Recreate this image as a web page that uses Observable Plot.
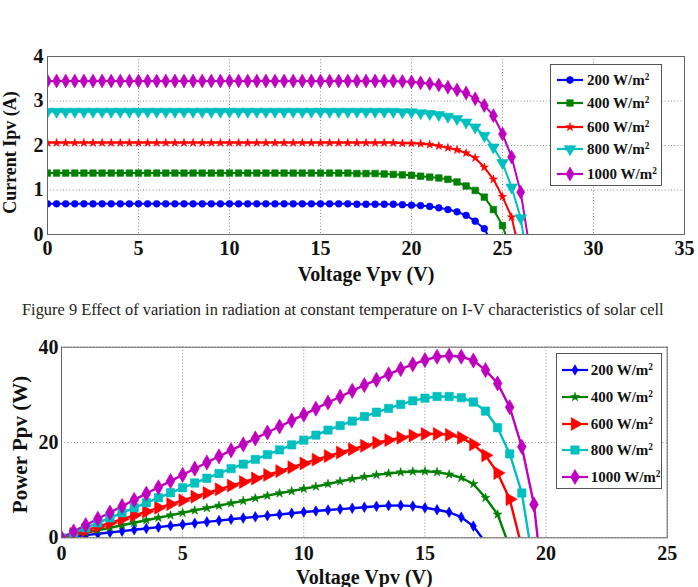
<!DOCTYPE html>
<html><head><meta charset="utf-8">
<script src="https://cdn.jsdelivr.net/npm/d3@7"></script>
<script src="https://cdn.jsdelivr.net/npm/@observablehq/plot@0.6"></script>
<style>
body{margin:0;background:#fff;}
#wrap{position:relative;width:698px;height:587px;overflow:hidden;background:#fff;font-family:"Liberation Serif","Times New Roman",serif;}
.chart{position:absolute;left:0;}
.caption{position:absolute;left:22px;top:300px;font-size:16.4px;white-space:nowrap;color:#222;font-family:"Liberation Serif",serif;}
.legend{position:absolute;background:#fff;border:1px solid #555;box-sizing:border-box;font-weight:bold;font-family:"Liberation Serif",serif;}
.legend .row{position:absolute;left:0;display:flex;align-items:center;white-space:nowrap;color:#111;}
.legend sup{font-size:0.62em;vertical-align:0.55em;line-height:0;}
</style></head><body><div id="wrap"></div>
<script>
// ---------- data ----------
const irradiance = ["200 W/m2","400 W/m2","600 W/m2","800 W/m2","1000 W/m2"];
const seriesColors = ["#0000ff","#008000","#ff0000","#00bfbf","#bf00bf"];

const ivXTicks = [0,5,10,15,20,25,30,35];
const ivYTicks = [0,1,2,3,4];
const pvXTicks = [0,5,10,15,20,25];
const pvYTicks = [0,20,40];

// I-V chart: voltage samples (V) and current (A)
const ivVoltage = [0,0.5,1,1.5,2,2.5,3,3.5,4,4.5, 5,5.5,6,6.5,7,7.5,8,8.5,9,9.5,
  10,10.5,11,11.5,12,12.5,13,13.5,14,14.5, 15,15.5,16,16.5,17,17.5,18,18.5,19,19.5,
  20,20.5,21,21.5,22,22.5,23,23.5,24,24.5, 25,25.5,26,26.5];
const iv200 = [0.69,0.69,0.69,0.69,0.69,0.69,0.69,0.69,0.69,0.69, 0.69,0.69,0.69,0.69,0.69,0.69,0.69,0.69,0.69,0.69,
  0.69,0.69,0.69,0.69,0.69,0.69,0.69,0.69,0.69,0.69, 0.69,0.69,0.69,0.69,0.68,0.68,0.68,0.68,0.68,0.67,
  0.66,0.65,0.63,0.60,0.56,0.51,0.43,0.30,0.13,-0.25];
const iv400 = [1.38,1.38,1.38,1.38,1.38,1.38,1.38,1.38,1.38,1.38, 1.38,1.38,1.38,1.38,1.38,1.38,1.38,1.38,1.38,1.38,
  1.38,1.38,1.38,1.38,1.38,1.38,1.38,1.38,1.38,1.38, 1.38,1.38,1.38,1.38,1.37,1.37,1.37,1.36,1.35,1.34,
  1.33,1.31,1.29,1.27,1.24,1.18,1.09,0.99,0.84,0.56, 0.20,-0.40];
const iv600 = [2.06,2.06,2.06,2.06,2.06,2.06,2.06,2.06,2.06,2.06, 2.06,2.06,2.06,2.06,2.06,2.06,2.06,2.06,2.06,2.06,
  2.06,2.06,2.06,2.06,2.06,2.06,2.06,2.06,2.06,2.06, 2.06,2.06,2.06,2.06,2.06,2.06,2.06,2.06,2.06,2.05,
  2.05,2.04,2.02,1.99,1.95,1.90,1.83,1.72,1.51,1.24, 0.85,0.39,-0.50];
const iv800 = [2.76,2.76,2.76,2.76,2.76,2.76,2.76,2.76,2.76,2.76, 2.76,2.76,2.76,2.76,2.76,2.76,2.76,2.76,2.76,2.76,
  2.76,2.76,2.76,2.76,2.76,2.76,2.76,2.76,2.76,2.76, 2.76,2.76,2.76,2.76,2.76,2.76,2.76,2.76,2.76,2.75,
  2.75,2.73,2.71,2.69,2.65,2.60,2.52,2.41,2.22,1.96, 1.61,1.06,0.37,-0.90];
const iv1000 = [3.45,3.45,3.45,3.45,3.45,3.45,3.45,3.45,3.45,3.45, 3.45,3.45,3.45,3.45,3.45,3.45,3.45,3.45,3.45,3.45,
  3.45,3.45,3.45,3.45,3.45,3.45,3.45,3.45,3.45,3.45, 3.45,3.45,3.45,3.45,3.45,3.45,3.45,3.45,3.45,3.44,
  3.43,3.41,3.39,3.36,3.31,3.25,3.18,3.05,2.90,2.67, 2.26,1.74,0.95,-0.33];

// P-V chart: voltage samples (V) and power (W)
const pvVoltage = [0,0.5,1,1.5,2,2.5,3,3.5,4,4.5, 5,5.5,6,6.5,7,7.5,8,8.5,9,9.5,
  10,10.5,11,11.5,12,12.5,13,13.5,14,14.5, 15,15.5,16,16.5,17,17.5,18,18.5,19,19.5, 20];
const pv200 = [0,0.28,0.56,0.84,1.12,1.4,1.68,1.96,2.24,2.52, 2.8,3.07,3.34,3.61,3.88,4.15,4.4,4.65,4.9,5.15,
  5.4,5.62,5.84,6.02,6.2,6.42,6.62,6.76,6.8,6.65, 6.3,5.88,5.36,4.33,2.45,-1.0];
const pv400 = [0,0.53,1.06,1.58,2.1,2.63,3.15,3.68,4.2,4.72, 5.25,5.75,6.25,6.75,7.25,7.75,8.3,8.85,9.35,9.8,
  10.3,10.75,11.3,11.85,12.35,12.8,13.2,13.5,13.75,13.9, 13.95,13.8,13.3,12.6,11.3,8.4,4.9,-2.0];
const pv600 = [0,0.79,1.58,2.37,3.15,3.94,4.72,5.5,6.3,7.07, 7.85,8.63,9.4,10.18,10.95,11.7,12.45,13.2,14.0,14.8,
  15.6,16.4,17.15,17.9,18.6,19.3,19.95,20.5,21.0,21.45, 21.8,21.8,21.6,21.0,19.6,17.3,13.6,8.1,-2.0];
const pv800 = [0,1.05,2.1,3.15,4.2,5.25,6.3,7.35,8.4,9.45, 10.5,11.5,12.5,13.5,14.5,15.45,16.45,17.45,18.45,19.5,
  20.5,21.55,22.6,23.55,24.5,25.45,26.35,27.15,28.0,28.75, 29.3,29.65,29.65,29.4,28.5,26.6,23.1,17.6,9.4,-6.3];
const pv1000 = [0,1.33,2.66,3.99,5.3,6.63,7.95,9.27,10.6,11.9, 13.2,14.5,15.8,17.1,18.35,19.6,20.85,22.1,23.35,24.6,
  25.85,27.1,28.4,29.6,30.85,32.05,33.15,34.3,35.4,36.4, 37.3,38.0,38.2,38.0,37.2,35.2,32.4,27.4,19.1,7.0,-16];

// ---------- styles ----------
const ivMarkers = [
  {symbol:"circle", r:3.4}, {symbol:"square", r:3.7}, {symbol:"star", r:2.6},
  {symbol:"triangle", r:4.3, rotate:180}, {symbol:"diamond", r:4.2}];
const pvMarkers = [
  {symbol:"diamond", r:3.2}, {symbol:"star", r:2.8}, {symbol:"triangle", r:4.8, rotate:90},
  {symbol:"square", r:4.7}, {symbol:"diamond", r:4.6}];

function makeChart(o) {
  const rows = [];
  o.series.forEach((vals, k) => vals.forEach((v, i) => rows.push({V: o.voltage[i], Y: v, s: irradiance[k], k})));
  const marks = [
    Plot.ruleX(o.xTicks, {stroke:"#8c8c8c", strokeDasharray:"1,2.2", strokeWidth:1}),
    Plot.ruleY(o.yTicks, {stroke:"#8c8c8c", strokeDasharray:"1,2.2", strokeWidth:1}),
    Plot.line(rows, {x:"V", y:"Y", z:"s", stroke:"s", strokeWidth:o.lw, clip:true}),
    ...o.markers.map((mk, k) => Plot.dot(rows.filter(d => d.k === k), {
      x:"V", y:"Y", symbol:mk.symbol, r:mk.r, rotate:mk.rotate || 0,
      fill:seriesColors[k], stroke:seriesColors[k], strokeWidth:0.6, clip:true})),
    Plot.frame({stroke:"#666", strokeWidth:1}),
    Plot.text([o.xLabel], {frameAnchor:"bottom", textAnchor:"middle", dy:o.xTitleDy, lineAnchor:"middle", fontSize:20, fontWeight:"bold", fill:"#111"}),
    Plot.text([o.yLabel], {frameAnchor:"left", textAnchor:"middle", dx:o.yTitleDx, dy:o.yTitleDy, rotate:-90, lineAnchor:"middle", fontSize:o.yTitleSize, fontWeight:"bold", fill:"#111"})
  ];
  return Plot.plot({
    width: 698, height: o.height,
    marginTop: o.m[0], marginRight: o.m[1], marginBottom: o.m[2], marginLeft: o.m[3],
    style: {fontFamily:"Liberation Serif, serif", fontSize:"20px", fontWeight:"bold", background:"transparent", color:"#111", overflow:"visible"},
    x: {domain:o.xDomain, ticks:o.xTicks, tickFormat:d3.format("d"), tickSize:0, tickPadding:o.xPad, label:null},
    y: {domain:o.yDomain, ticks:o.yTicks, tickFormat:d3.format("d"), tickSize:0, tickPadding:o.yPad, label:null},
    color: {domain: irradiance, range: seriesColors},
    marks
  });
}

function legend(markers, box, rowYs, swX, textX, fontSize) {
  const div = document.createElement("div");
  div.className = "legend";
  Object.assign(div.style, {left: box[0]+"px", top: box[1]+"px", width: box[2]+"px", height: box[3]+"px", fontSize: fontSize+"px"});
  irradiance.forEach((lab, k) => {
    const row = document.createElement("div");
    row.className = "row";
    row.style.top = (rowYs[k] - 12) + "px";
    row.style.height = "24px";
    row.style.left = swX + "px";
    const mk = markers[k];
    const type = {circle:d3.symbolCircle, square:d3.symbolSquare, star:d3.symbolStar, triangle:d3.symbolTriangle, diamond:d3.symbolDiamond}[mk.symbol];
    const path = d3.symbol(type, Math.PI * mk.r * mk.r)();
    const svgNS = "http://www.w3.org/2000/svg";
    const svg = document.createElementNS(svgNS, "svg");
    svg.setAttribute("width", textX - swX); svg.setAttribute("height", 24);
    svg.style.flex = "none";
    const line = document.createElementNS(svgNS, "line");
    line.setAttribute("x1", 0); line.setAttribute("x2", 26); line.setAttribute("y1", 12); line.setAttribute("y2", 12);
    line.setAttribute("stroke", seriesColors[k]); line.setAttribute("stroke-width", 2.2);
    svg.appendChild(line);
    const p = document.createElementNS(svgNS, "path");
    p.setAttribute("d", path);
    p.setAttribute("transform", `translate(13,12) rotate(${mk.rotate || 0})`);
    p.setAttribute("fill", seriesColors[k]); p.setAttribute("stroke", seriesColors[k]); p.setAttribute("stroke-width", 0.6);
    svg.appendChild(p);
    row.appendChild(svg);
    const t = document.createElement("span");
    const parts = lab.split("m2");
    t.innerHTML = parts[0] + "m<sup>2</sup>";
    row.appendChild(t);
    div.appendChild(row);
  });
  return div;
}

const wrap = document.getElementById("wrap");

const ivChart = makeChart({
  voltage: ivVoltage, series: [iv200, iv400, iv600, iv800, iv1000],
  xDomain: [0,35], yDomain: [0,4], xTicks: ivXTicks, yTicks: ivYTicks,
  xLabel: "Voltage Vpv (V)", yLabel: "Current Ipv (A)",
  markers: ivMarkers, height: 300, m: [56, 14, 66, 47], lw: 2,
  xPad: 6, yPad: 4, xTitleDy: 40, yTitleDx: -37, yTitleDy: 7, yTitleSize: 18
});
ivChart.classList.add("chart"); ivChart.style.top = "0px";
wrap.appendChild(ivChart);

const cap = document.createElement("div");
cap.className = "caption";
cap.textContent = "Figure 9 Effect of variation in radiation at constant temperature on I-V characteristics of solar cell";
wrap.appendChild(cap);

const pvChart = makeChart({
  voltage: pvVoltage, series: [pv200, pv400, pv600, pv800, pv1000],
  xDomain: [0,25], yDomain: [0,40], xTicks: pvXTicks, yTicks: pvYTicks,
  xLabel: "Voltage Vpv (V)", yLabel: "Power Ppv (W)",
  markers: pvMarkers, height: 300, m: [46.7, 31.3, 62.7, 61], lw: 2.4,
  xPad: 8, yPad: 3, xTitleDy: 40, yTitleDx: -41, yTitleDy: 2, yTitleSize: 21
});
pvChart.classList.add("chart"); pvChart.style.top = "300px";
wrap.appendChild(pvChart);

wrap.appendChild(legend(ivMarkers, [550, 64, 112, 122], [15, 38, 62, 84, 109], 6, 36, 15));
wrap.appendChild(legend(pvMarkers, [555.7, 353, 106.3, 136], [16, 43, 70, 96, 123], 5, 34, 15));
</script></body></html>
